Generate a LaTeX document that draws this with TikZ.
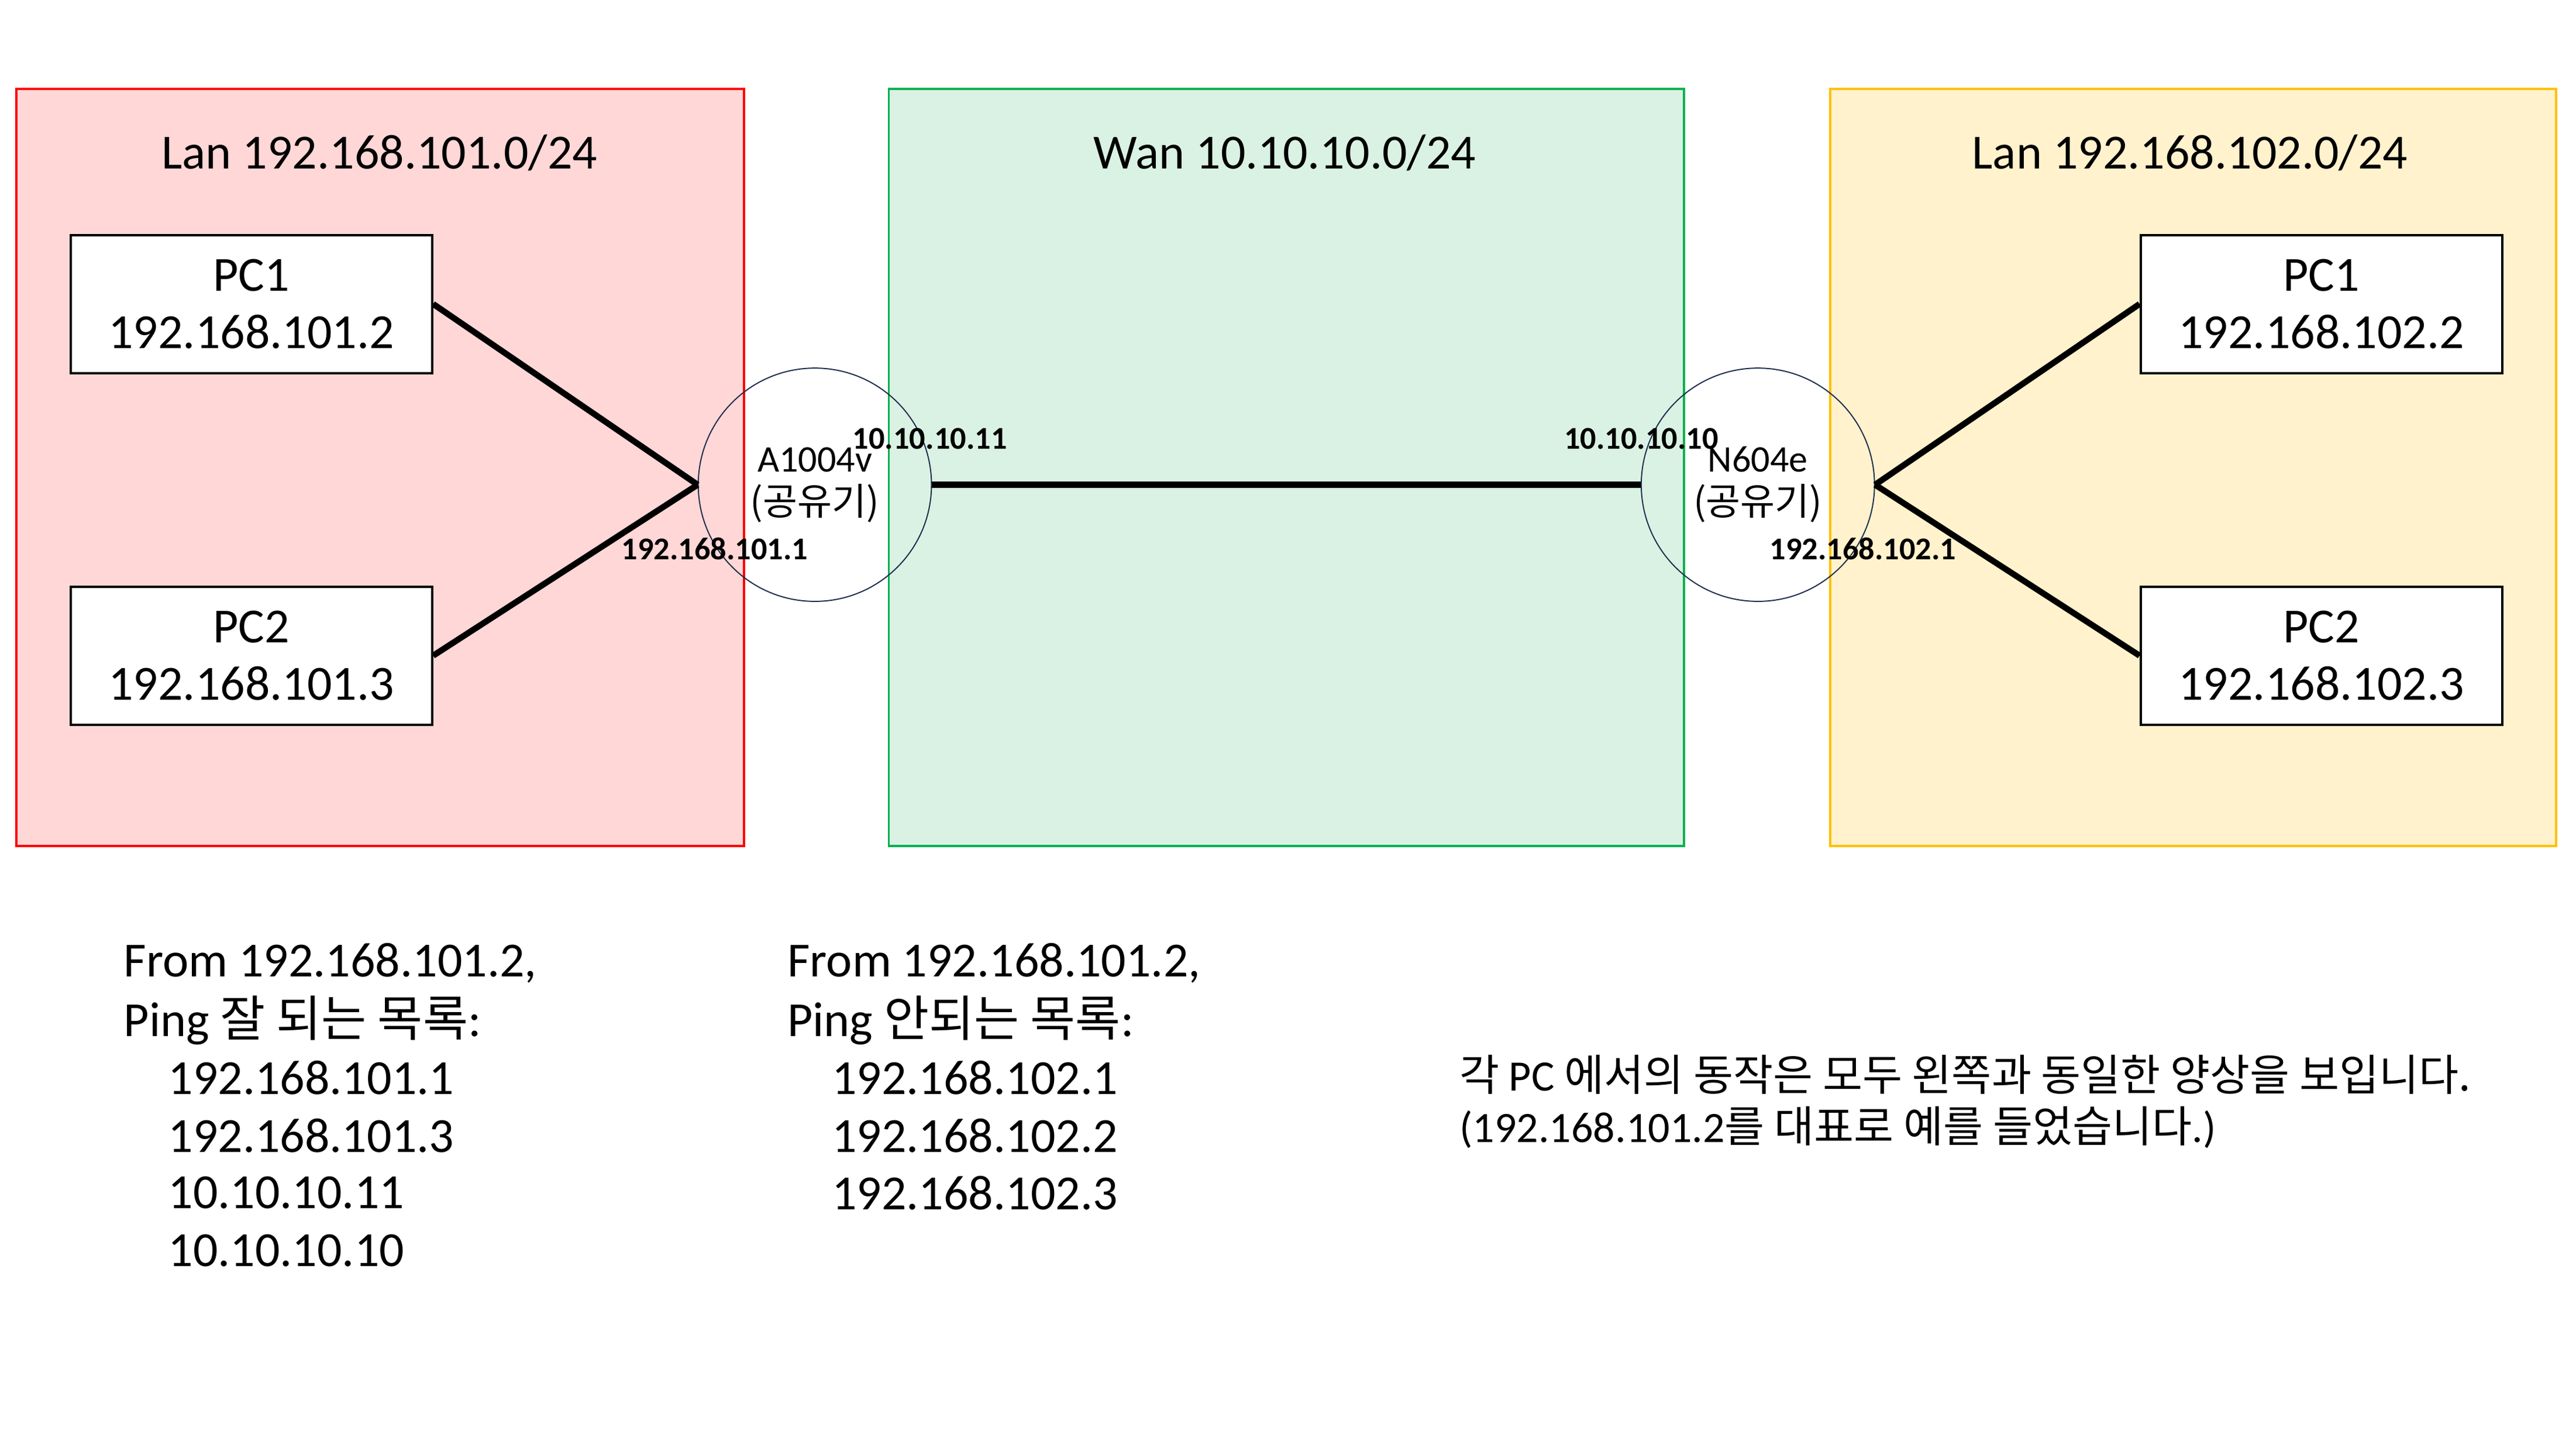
\documentclass[tikz,border=0pt]{standalone}
\usepackage{fontspec}
\setmainfont{Carlito}
\newfontfamily\kr{Noto Sans CJK KR}
\usetikzlibrary{positioning}
\definecolor{lanred}{HTML}{FFD7D7}
\definecolor{wangreen}{HTML}{DAF2E3}
\definecolor{lanyellow}{HTML}{FFF2CC}
\definecolor{brdgreen}{HTML}{00B050}
\definecolor{brdyellow}{HTML}{FFC000}
\definecolor{rtblue}{HTML}{1F2F4F}

\begin{document}
\begin{tikzpicture}[x=0.02cm, y=-0.02cm, font=\fontsize{17}{20}\selectfont,
    pcbox/.style={draw, thick, fill=white, minimum width=4.4cm, minimum height=1.68cm, align=center},
    router/.style={draw=rtblue, circle, minimum size=2.84cm, align=center, inner sep=0pt, font=\fontsize{13}{15}\selectfont},
    iflabel/.style={font=\fontsize{11}{13}\selectfont\bfseries, inner sep=0pt},
    link/.style={line width=2.1pt},
    note/.style={anchor=west, inner sep=0pt}]
    \useasboundingbox (0,0) rectangle (1568,881);
    % zones
    \draw[red, fill=lanred, thick] (10,54) rectangle (453,515);
    \draw[brdgreen, fill=wangreen, thick] (541,54) rectangle (1025,515);
    \draw[brdyellow, fill=lanyellow, thick] (1114,54) rectangle (1556,515);
    \node (lan1) at (231,93) {Lan 192.168.101.0/24};
    \node (wan) at (782,93) {Wan 10.10.10.0/24};
    \node (lan2) at (1333,93) {Lan 192.168.102.0/24};
    % hosts
    \node[pcbox] (pc1a) at (153,185) {PC1\\192.168.101.2};
    \node[pcbox] (pc2a) at (153,399) {PC2\\192.168.101.3};
    \node[pcbox] (pc1b) at (1413,185) {PC1\\192.168.102.2};
    \node[pcbox] (pc2b) at (1413,399) {PC2\\192.168.102.3};
    % routers
    \node[router] (ra) at (496,295) {A1004v\\{\kr(공유기)}};
    \node[router] (rb) at (1070,295) {N604e\\{\kr(공유기)}};
    \node[iflabel] (ifa1) at (566,267) {10.10.10.11};
    \node[iflabel] (ifa2) at (435,334) {192.168.101.1};
    \node[iflabel] (ifb1) at (999,267) {10.10.10.10};
    \node[iflabel] (ifb2) at (1134,334) {192.168.102.1};
    % links
    \draw[link] (pc1a.east) -- (ra.west);
    \draw[link] (pc2a.east) -- (ra.west);
    \draw[link] (ra.east) -- (rb.west);
    \draw[link] (rb.east) -- (pc1b.west);
    \draw[link] (rb.east) -- (pc2b.west);
    % ping results
    \node[note] (ok0) at (75,586) {From 192.168.101.2,};
    \node[note] (ok1) at (75,621) {Ping {\kr 잘 되는 목록}:};
    \node[note] (ok2) at (102,656) {192.168.101.1};
    \node[note] (ok3) at (102,691) {192.168.101.3};
    \node[note] (ok4) at (102,726) {10.10.10.11};
    \node[note] (ok5) at (102,761) {10.10.10.10};
    \node[note] (ng0) at (479,586) {From 192.168.101.2,};
    \node[note] (ng1) at (479,621) {Ping {\kr 안되는 목록}:};
    \node[note] (ng2) at (506,656) {192.168.102.1};
    \node[note] (ng3) at (506,691) {192.168.102.2};
    \node[note] (ng4) at (506,726) {192.168.102.3};
    \node[note, font=\fontsize{15}{18}\selectfont] (rem1) at (888,654) {{\kr 각} PC {\kr 에서의 동작은 모두 왼쪽과 동일한 양상을 보입니다.}};
    \node[note, font=\fontsize{15}{18}\selectfont] (rem2) at (888,686) {(192.168.101.2{\kr 를 대표로 예를 들었습니다}.)};
\end{tikzpicture}
\end{document}
